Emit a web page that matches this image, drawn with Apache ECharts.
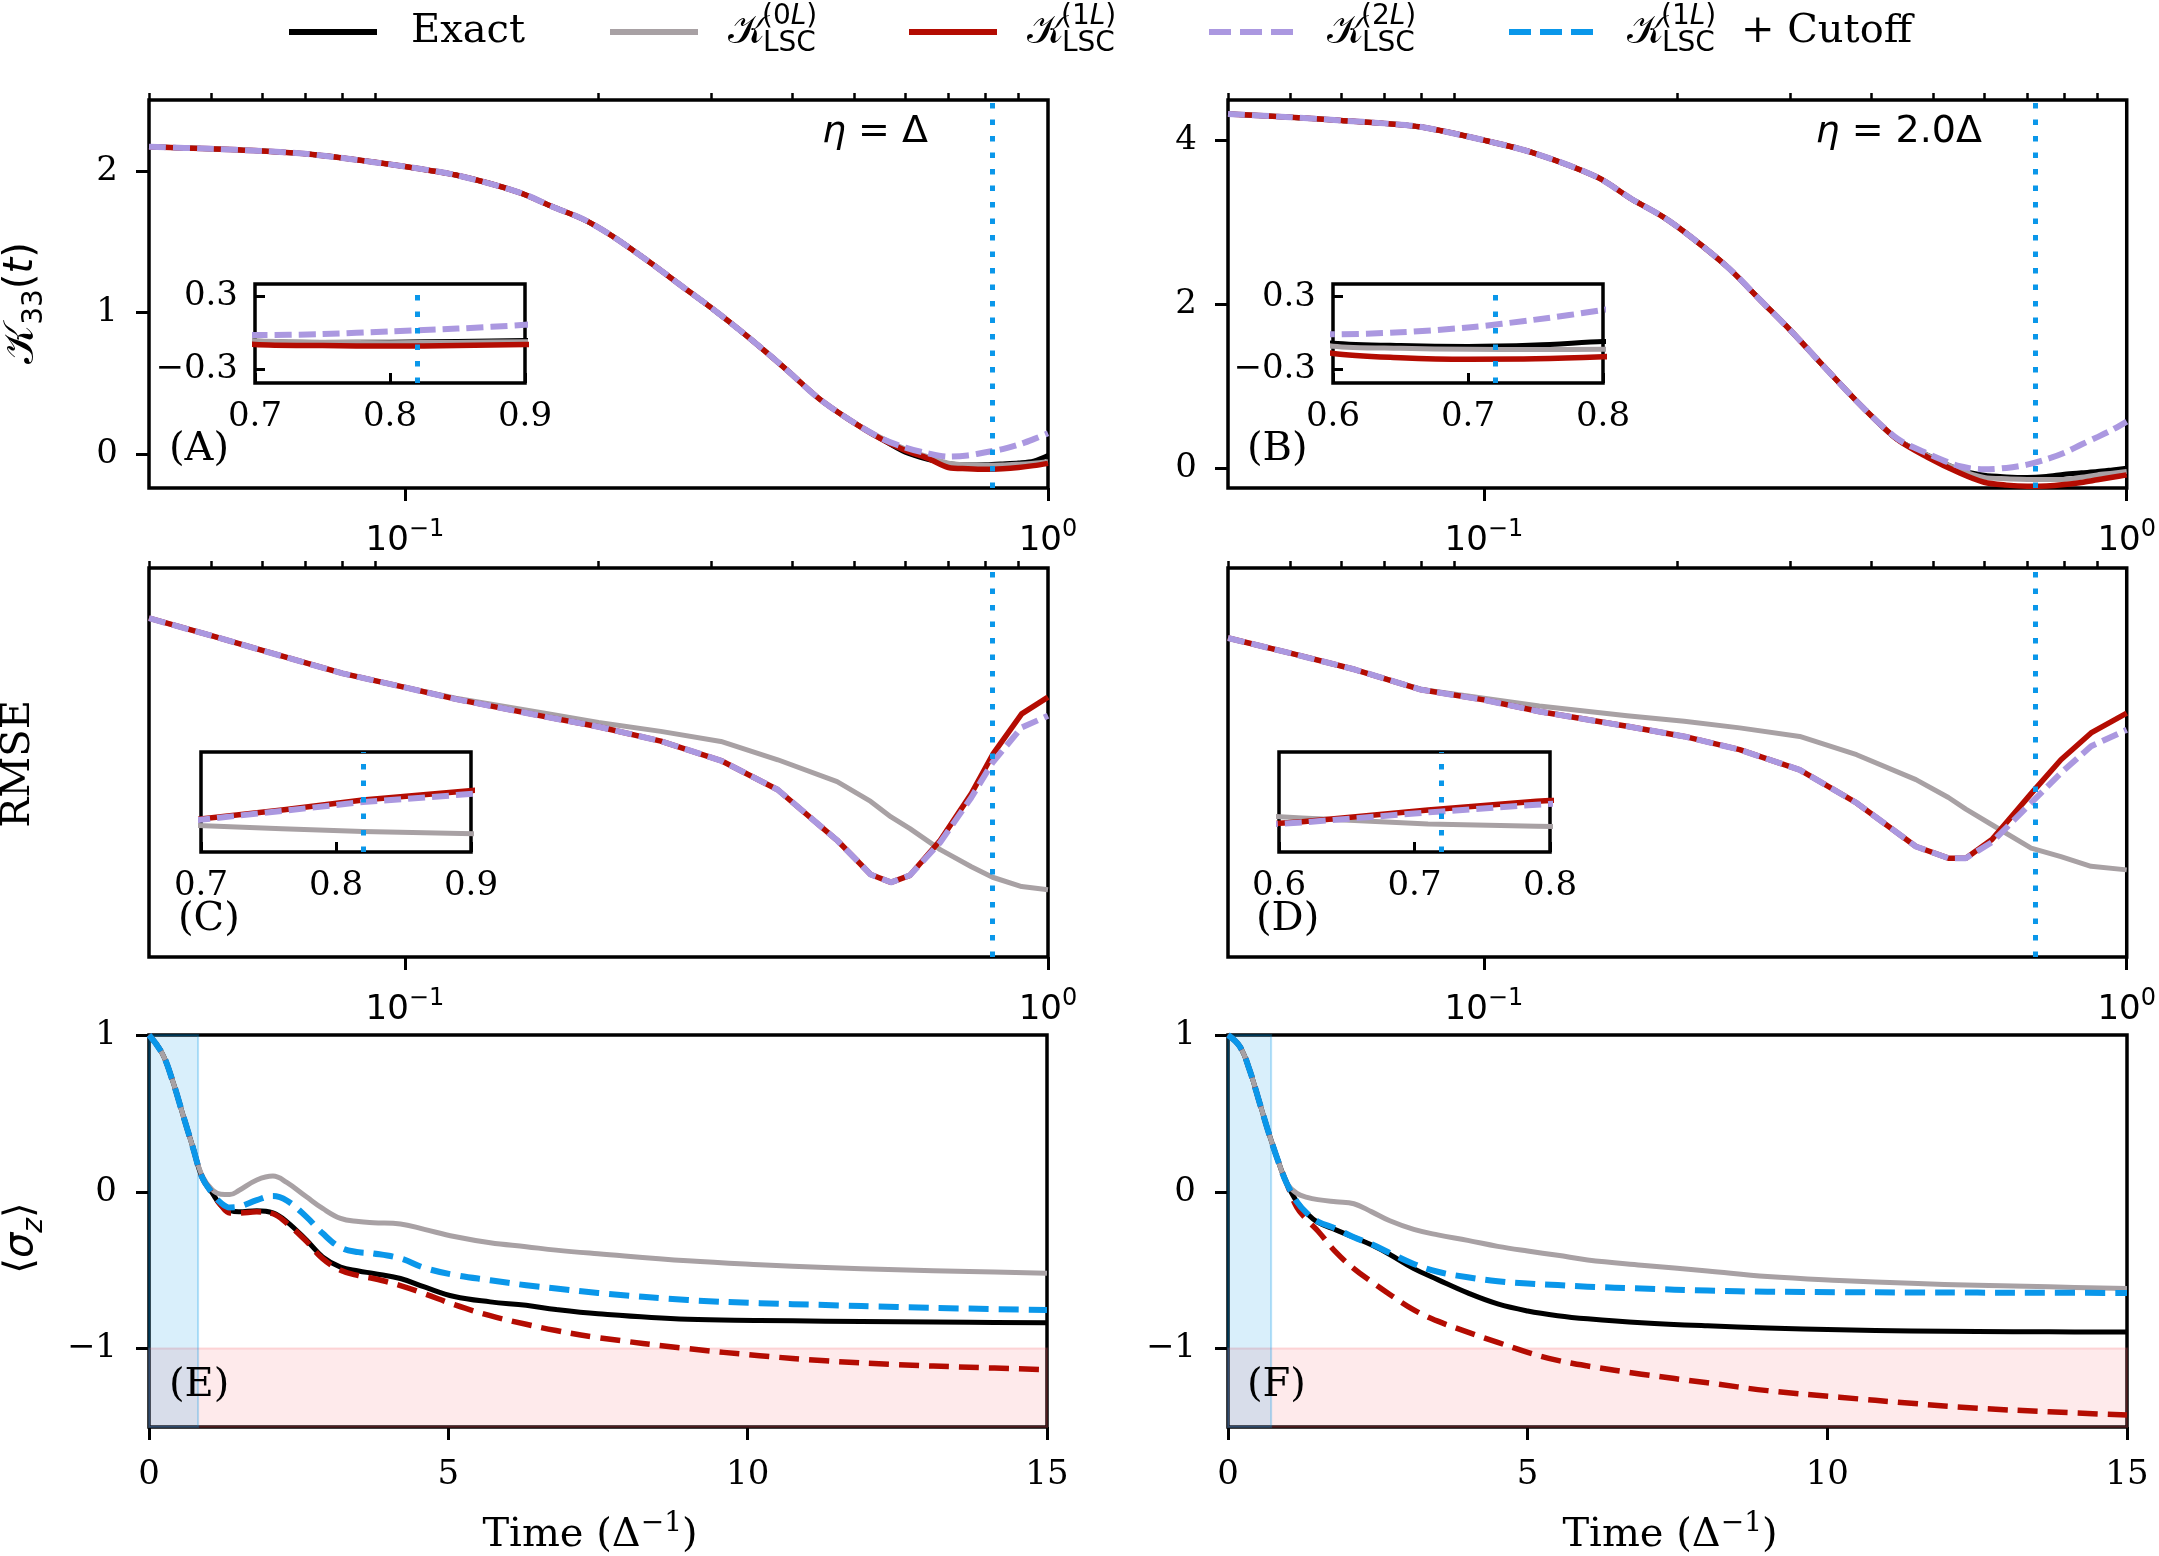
<!DOCTYPE html>
<html>
<head>
<meta charset="utf-8">
<title>LSC kernel, RMSE and population dynamics</title>
<script src="https://cdn.jsdelivr.net/npm/echarts@6/dist/echarts.min.js"></script>
<style>
  html, body { margin: 0; padding: 0; background: #fff; }
  #chart { width: 2159px; height: 1556px; }
</style>
</head>
<body>
<div id="chart"></div>
<script>
// ---------- data ----------
// (A)/(B): memory kernel K33(t) on a log time axis
const tK = [0.04, 0.05, 0.06, 0.07, 0.08, 0.1, 0.12, 0.15, 0.17, 0.19, 0.21, 0.24, 0.27, 0.3,
            0.34, 0.39, 0.44, 0.49, 0.55, 0.6, 0.65, 0.7, 0.75, 0.8, 0.85, 0.9, 0.95, 1.0];

const kA_exact = [2.17, 2.155, 2.14, 2.12, 2.09, 2.03, 1.97, 1.85, 1.745, 1.655, 1.54, 1.356, 1.183, 1.03,
                  0.835, 0.605, 0.393, 0.245, 0.107, 0.012, -0.038, -0.068, -0.078, -0.076, -0.07, -0.063, -0.05, -0.01];
const kA_0L = [2.17, 2.155, 2.14, 2.12, 2.09, 2.03, 1.97, 1.85, 1.745, 1.655, 1.54, 1.356, 1.183, 1.03,
               0.835, 0.605, 0.393, 0.245, 0.115, 0.035, -0.02, -0.065, -0.077, -0.08, -0.078, -0.072, -0.065, -0.055];
const kA_1L = [2.17, 2.155, 2.14, 2.12, 2.09, 2.03, 1.97, 1.85, 1.745, 1.655, 1.54, 1.356, 1.183, 1.03,
               0.835, 0.605, 0.393, 0.245, 0.107, 0.025, -0.03, -0.095, -0.104, -0.108, -0.104, -0.095, -0.082, -0.066];
const kA_2L = [2.17, 2.155, 2.14, 2.12, 2.09, 2.03, 1.97, 1.85, 1.745, 1.655, 1.54, 1.356, 1.183, 1.03,
               0.835, 0.605, 0.393, 0.245, 0.112, 0.045, 0.005, -0.018, -0.01, 0.012, 0.035, 0.066, 0.105, 0.146];

const kB_exact = [4.32, 4.28, 4.24, 4.205, 4.16, 4.0, 3.84, 3.55, 3.28, 3.065, 2.82, 2.445, 2.04, 1.68,
                  1.22, 0.73, 0.35, 0.16, -0.02, -0.085, -0.105, -0.112, -0.1, -0.072, -0.055, -0.04, -0.02, 0.0];
const kB_0L = [4.32, 4.28, 4.24, 4.205, 4.16, 4.0, 3.84, 3.55, 3.28, 3.065, 2.82, 2.445, 2.04, 1.68,
               1.22, 0.73, 0.35, 0.16, -0.02, -0.11, -0.128, -0.135, -0.137, -0.135, -0.11, -0.08, -0.06, -0.04];
const kB_1L = [4.32, 4.28, 4.24, 4.205, 4.16, 4.0, 3.84, 3.55, 3.28, 3.065, 2.82, 2.445, 2.04, 1.68,
               1.22, 0.73, 0.35, 0.135, -0.058, -0.17, -0.205, -0.218, -0.215, -0.198, -0.172, -0.14, -0.11, -0.08];
const kB_2L = [4.32, 4.28, 4.24, 4.205, 4.16, 4.0, 3.84, 3.55, 3.28, 3.065, 2.82, 2.445, 2.04, 1.68,
               1.22, 0.73, 0.36, 0.18, 0.025, -0.012, 0.005, 0.045, 0.11, 0.19, 0.29, 0.38, 0.47, 0.57];

// (C)/(D): RMSE, axis unlabeled in the figure -> arbitrary units (0..1 of panel)
const tC = [0.04, 0.05, 0.06, 0.08, 0.1, 0.12, 0.165, 0.2, 0.25, 0.31, 0.38, 0.47, 0.53, 0.57,
            0.61, 0.68, 0.76, 0.82, 0.91, 1.0];
const rC_0L = [0.871, 0.826, 0.788, 0.729, 0.693, 0.665, 0.627, 0.603, 0.58, 0.554, 0.507, 0.451, 0.40, 0.36,
               0.33, 0.276, 0.232, 0.205, 0.181, 0.173];
const rC_1L = [0.871, 0.826, 0.788, 0.729, 0.693, 0.663, 0.618, 0.592, 0.555, 0.505, 0.43, 0.30, 0.212, 0.192,
               0.21, 0.30, 0.42, 0.52, 0.625, 0.668];
const rC_2L = [0.871, 0.826, 0.788, 0.729, 0.693, 0.663, 0.618, 0.592, 0.555, 0.505, 0.43, 0.30, 0.212, 0.192,
               0.21, 0.295, 0.41, 0.50, 0.59, 0.62];

const tD = [0.04, 0.05, 0.063, 0.08, 0.1, 0.122, 0.167, 0.205, 0.25, 0.31, 0.38, 0.47, 0.528, 0.562,
            0.617, 0.71, 0.79, 0.88, 1.0];
const rD_0L = [0.82, 0.781, 0.739, 0.688, 0.665, 0.645, 0.62, 0.606, 0.589, 0.567, 0.52, 0.456, 0.41, 0.38,
               0.34, 0.28, 0.258, 0.233, 0.224];
const rD_1L = [0.82, 0.781, 0.739, 0.687, 0.661, 0.631, 0.593, 0.567, 0.533, 0.481, 0.396, 0.284, 0.254, 0.254,
               0.302, 0.42, 0.507, 0.576, 0.627];
const rD_2L = [0.82, 0.781, 0.739, 0.687, 0.661, 0.631, 0.593, 0.567, 0.533, 0.481, 0.396, 0.284, 0.254, 0.254,
               0.295, 0.396, 0.473, 0.542, 0.584];

// (E)/(F): <sigma_z>(t)
const tE = [0, 0.22, 0.39, 0.56, 0.73, 0.89, 1.06, 1.2, 1.35, 1.5, 1.8, 2.07, 2.3, 2.63, 2.9, 3.2,
            3.5, 3.75, 4.2, 4.6, 5.1, 5.7, 6.3, 6.8, 7.5, 9.0, 10.2, 11.3, 12.5, 13.7, 15];
const sE_exact = [1.0, 0.883, 0.713, 0.5, 0.287, 0.09, -0.01, -0.085, -0.118, -0.128, -0.121, -0.135, -0.19, -0.308,
                  -0.415, -0.48, -0.505, -0.521, -0.553, -0.607, -0.668, -0.702, -0.724, -0.751, -0.778, -0.813,
                  -0.82, -0.825, -0.828, -0.832, -0.835];
const sE_0L = [1.0, 0.883, 0.713, 0.5, 0.287, 0.1, 0.011, -0.015, -0.018, 0.008, 0.075, 0.1, 0.06, -0.032,
               -0.106, -0.17, -0.19, -0.197, -0.205, -0.24, -0.285, -0.325, -0.35, -0.372, -0.395, -0.44,
               -0.465, -0.483, -0.497, -0.508, -0.519];
const sE_1L = [1.0, 0.883, 0.713, 0.5, 0.287, 0.09, -0.01, -0.085, -0.135, -0.135, -0.128, -0.14, -0.2, -0.316,
               -0.426, -0.5, -0.535, -0.553, -0.598, -0.65, -0.72, -0.79, -0.845, -0.885, -0.93, -1.0,
               -1.045, -1.078, -1.102, -1.119, -1.134];
const sE_cut = [1.0, 0.883, 0.713, 0.5, 0.287, 0.09, -0.01, -0.07, -0.1, -0.095, -0.053, -0.027, -0.055, -0.16,
                -0.265, -0.355, -0.385, -0.393, -0.425, -0.485, -0.53, -0.564, -0.596, -0.617, -0.645, -0.69,
                -0.71, -0.722, -0.735, -0.745, -0.754];

const tF = [0, 0.2, 0.36, 0.53, 0.7, 0.87, 0.98, 1.15, 1.32, 1.5, 1.8, 2.1, 2.4, 2.7, 3.1, 3.5, 4.0,
            4.5, 5.0, 5.5, 6.0, 6.9, 8.0, 9.0, 10.2, 11.4, 12.5, 13.7, 15];
const sF_exact = [1.0, 0.925, 0.777, 0.564, 0.351, 0.16, 0.054, -0.064, -0.138, -0.195, -0.243, -0.29, -0.34,
                  -0.40, -0.49, -0.56, -0.645, -0.715, -0.76, -0.79, -0.81, -0.835, -0.855, -0.868, -0.88,
                  -0.888, -0.891, -0.893, -0.894];
const sF_0L = [1.0, 0.925, 0.777, 0.564, 0.351, 0.16, 0.054, -0.01, -0.035, -0.05, -0.064, -0.076, -0.128,
               -0.185, -0.24, -0.275, -0.31, -0.348, -0.378, -0.405, -0.435, -0.468, -0.505, -0.54, -0.565,
               -0.584, -0.596, -0.606, -0.617];
const sF_1L = [1.0, 0.925, 0.777, 0.564, 0.351, 0.16, 0.054, -0.1, -0.18, -0.25, -0.385, -0.49, -0.575,
               -0.655, -0.753, -0.825, -0.895, -0.96, -1.024, -1.075, -1.111, -1.163, -1.218, -1.268, -1.31,
               -1.349, -1.38, -1.403, -1.424];
const sF_cut = [1.0, 0.925, 0.777, 0.564, 0.351, 0.16, 0.054, -0.064, -0.138, -0.19, -0.235, -0.29, -0.335,
                -0.39, -0.46, -0.51, -0.545, -0.57, -0.585, -0.595, -0.605, -0.617, -0.63, -0.637, -0.64,
                -0.642, -0.643, -0.644, -0.645];

// cutoff times (dotted lines / blue band) and the unphysical region <sigma_z> < -1
const cutoffLeft = 0.82;
const cutoffRight = 0.72;
const sigmaFloor = -1;

// tick values
const logMajor = [0.1, 1];
const logMinor = [0.04, 0.05, 0.06, 0.07, 0.08, 0.09, 0.2, 0.3, 0.4, 0.5, 0.6, 0.7, 0.8, 0.9];
const ticksKA = [0, 1, 2];
const ticksKB = [0, 2, 4];
const ticksSigma = [-1, 0, 1];
const ticksTime = [0, 5, 10, 15];
const ticksInsetY = [-0.3, 0.3];
const ticksInsetLeft = [0.7, 0.8, 0.9];
const ticksInsetRight = [0.6, 0.7, 0.8];

// ---------- styling ----------
const BLACK = '#000000', GRAY = '#a8a1a4', RED = '#b40c02', LAV = '#ab98e0', BLUE = '#0a97ea';
const SERIF = 'DejaVu Serif', SANS = 'DejaVu Sans';
const TICK_FS = 34;

const chart = echarts.init(document.getElementById('chart'));

const minus = v => (v < 0 ? '\u2212' + Math.abs(v) : String(v));

function logAxes(gi) {
  const base = {
    type: 'log', logBase: 10, gridIndex: gi, min: 0.04, max: 1,
    axisLine: {show: false, onZero: false}, splitLine: {show: false}
  };
  return [
    Object.assign({}, base, {
      axisTick: {show: true, length: 13, customValues: logMajor, lineStyle: {color: BLACK, width: 3}},
      axisLabel: {
        show: true, customValues: logMajor, margin: 30,
        formatter: v => '{b|10}{s|' + minus(Math.round(Math.log10(v))) + '}',
        rich: {
          b: {fontFamily: SANS, fontSize: TICK_FS, lineHeight: 46, color: BLACK},
          s: {fontFamily: SANS, fontSize: 24, lineHeight: 24, verticalAlign: 'top', color: BLACK}
        }
      }
    }),
    Object.assign({}, base, {
      axisTick: {show: true, length: 7, customValues: logMinor, lineStyle: {color: BLACK, width: 2.5}},
      axisLabel: {show: false}
    })
  ];
}

function valAxis(gi, min, max, ticks, opt) {
  opt = opt || {};
  return {
    type: 'value', gridIndex: gi, min: min, max: max,
    axisLine: {show: false, onZero: false}, splitLine: {show: false},
    axisTick: {show: true, inside: !!opt.inside, length: opt.len || 13, customValues: ticks,
               lineStyle: {color: BLACK, width: 3}},
    axisLabel: {show: true, customValues: ticks, margin: opt.margin || 30,
                formatter: opt.fmt || minus, fontFamily: SERIF, fontSize: TICK_FS, color: BLACK}
  };
}

function hiddenAxis(gi, min, max) {
  return {type: 'value', gridIndex: gi, min: min, max: max, show: false,
          axisLine: {onZero: false}, splitLine: {show: false}};
}

const grids = [
  {left: 149, top: 100, width: 899, height: 388},   // A
  {left: 1228, top: 100, width: 899, height: 388},  // B
  {left: 149, top: 568, width: 899, height: 389},   // C
  {left: 1228, top: 568, width: 899, height: 389},  // D
  {left: 149, top: 1035, width: 898, height: 392},  // E
  {left: 1228, top: 1035, width: 899, height: 392}, // F
  {left: 255, top: 284, width: 270, height: 99},    // inset A
  {left: 1333, top: 284, width: 270, height: 99},   // inset B
  {left: 201, top: 752, width: 270, height: 100},   // inset C
  {left: 1279, top: 752, width: 271, height: 100}   // inset D
];

const fmt1 = v => minus(Number(v.toFixed(1)));

const xAxes = [].concat(
  logAxes(0), logAxes(1), logAxes(2), logAxes(3),                           // 0..7
  [valAxis(4, 0, 15, ticksTime, {margin: 31}),                               // 8
   valAxis(5, 0, 15, ticksTime, {margin: 31}),                               // 9
   valAxis(6, 0.7, 0.9, ticksInsetLeft, {inside: true, len: 10, margin: 17, fmt: fmt1}),   // 10
   valAxis(7, 0.6, 0.8, ticksInsetRight, {inside: true, len: 10, margin: 17, fmt: fmt1}),  // 11
   valAxis(8, 0.7, 0.9, ticksInsetLeft, {inside: true, len: 10, margin: 17, fmt: fmt1}),   // 12
   valAxis(9, 0.6, 0.8, ticksInsetRight, {inside: true, len: 10, margin: 17, fmt: fmt1})]  // 13
);

const yAxes = [
  valAxis(0, -0.24, 2.5, ticksKA, {margin: 31}),
  valAxis(1, -0.24, 4.49, ticksKB, {margin: 31}),
  hiddenAxis(2, 0, 1),
  hiddenAxis(3, 0, 1),
  valAxis(4, -1.5, 1, ticksSigma, {margin: 32}),
  valAxis(5, -1.5, 1, ticksSigma, {margin: 32}),
  valAxis(6, -0.41, 0.4, ticksInsetY, {inside: true, len: 10, margin: 17, fmt: fmt1}),
  valAxis(7, -0.415, 0.405, ticksInsetY, {inside: true, len: 10, margin: 17, fmt: fmt1}),
  hiddenAxis(8, 0, 1),
  hiddenAxis(9, 0, 1)
];

function line(name, xi, yi, xs, ys, color, width, dash, smooth) {
  return {
    name: name, type: 'line', xAxisIndex: xi, yAxisIndex: yi,
    data: xs.map((x, i) => [x, ys[i]]),
    symbol: 'none', showSymbol: false, smooth: smooth, silent: true,
    lineStyle: {color: color, width: width, type: dash || 'solid', cap: 'butt', join: 'round'}
  };
}

function cutoffMark(x) {
  return {
    silent: true, symbol: ['none', 'none'], label: {show: false},
    lineStyle: {color: BLUE, width: 5, type: [5.5, 11], cap: 'butt'},
    data: [{xAxis: x}]
  };
}

const LAV_DASH = [17, 7];
const E_DASH = [20, 10];
const series = [];

function kernelPanel(xi, yi, ex, z0, z1, z2, cut, smooth) {
  if (ex) series.push(line('Exact', xi, yi, tK, ex, BLACK, 5, null, smooth));
  series.push(line('K0L', xi, yi, tK, z0, GRAY, 5, null, smooth));
  const s1 = line('K1L', xi, yi, tK, z1, RED, 5.5, null, smooth);
  s1.markLine = cutoffMark(cut);
  series.push(s1);
  series.push(line('K2L', xi, yi, tK, z2, LAV, 6, LAV_DASH, smooth));
}
function rmsePanel(xi, yi, ts, z0, z1, z2, cut) {
  series.push(line('K0L', xi, yi, ts, z0, GRAY, 5, null, false));
  const s1 = line('K1L', xi, yi, ts, z1, RED, 5.5, null, false);
  s1.markLine = cutoffMark(cut);
  series.push(s1);
  series.push(line('K2L', xi, yi, ts, z2, LAV, 6, LAV_DASH, false));
}
function sigmaPanel(xi, yi, ts, ex, z0, z1, cutS, cut) {
  series.push(line('Exact', xi, yi, ts, ex, BLACK, 5, null, 0.4));
  const g = line('K0L', xi, yi, ts, z0, GRAY, 5, null, 0.4);
  g.markArea = {
    silent: true, label: {show: false},
    data: [
      [{yAxis: -1.5, itemStyle: {color: 'rgba(245,90,100,0.13)', borderColor: 'rgba(245,90,100,0.22)', borderWidth: 2}},
       {yAxis: sigmaFloor}],
      [{xAxis: 0, itemStyle: {color: 'rgba(0,150,230,0.15)', borderColor: 'rgba(0,150,230,0.28)', borderWidth: 2}},
       {xAxis: cut}]
    ]
  };
  series.push(g);
  series.push(line('K1L', xi, yi, ts, z1, RED, 5.5, E_DASH, 0.4));
  series.push(line('K1L+Cutoff', xi, yi, ts, cutS, BLUE, 6, E_DASH, 0.4));
}

kernelPanel(0, 0, kA_exact, kA_0L, kA_1L, kA_2L, cutoffLeft, 0.3);
kernelPanel(2, 1, kB_exact, kB_0L, kB_1L, kB_2L, cutoffRight, 0.3);
rmsePanel(4, 2, tC, rC_0L, rC_1L, rC_2L, cutoffLeft);
rmsePanel(6, 3, tD, rD_0L, rD_1L, rD_2L, cutoffRight);
sigmaPanel(8, 4, tE, sE_exact, sE_0L, sE_1L, sE_cut, cutoffLeft);
sigmaPanel(9, 5, tF, sF_exact, sF_0L, sF_1L, sF_cut, cutoffRight);
// insets (same curves, zoomed)
kernelPanel(10, 6, kA_exact, kA_0L, kA_1L, kA_2L, cutoffLeft, 0.3);
kernelPanel(11, 7, kB_exact, kB_0L, kB_1L, kB_2L, cutoffRight, 0.3);
rmsePanel(12, 8, tC, rC_0L, rC_1L, rC_2L, cutoffLeft);
rmsePanel(13, 9, tD, rD_0L, rD_1L, rD_2L, cutoffRight);

// ---------- text: legend, axis titles, panel tags ----------
const graphics = [];
function txt(x, y, text, extra) {
  const st = Object.assign({text: text, x: 0, y: 0, fill: BLACK, fontFamily: SERIF, fontSize: 40,
                            align: 'left', verticalAlign: 'middle'}, extra || {});
  graphics.push({type: 'text', x: x, y: y, z: 100, silent: true, style: st});
}
const KCAL = '\uD835\uDCA6';
const legY = 32;
const legendItems = [
  {x: 289, color: BLACK, dash: null, label: 'Exact'},
  {x: 610, color: GRAY, dash: null, sup: '0'},
  {x: 909, color: RED, dash: null, sup: '1'},
  {x: 1209, color: LAV, dash: [22, 9], sup: '2'},
  {x: 1509, color: BLUE, dash: [22, 9], sup: '1', after: '+ Cutoff'}
];
legendItems.forEach(it => {
  graphics.push({type: 'line', z: 100, silent: true,
    shape: {x1: it.x, y1: legY, x2: it.x + 88, y2: legY},
    style: {stroke: it.color, lineWidth: 6, lineDash: it.dash, lineCap: 'butt'}});
  if (it.label) { txt(it.x + 122, legY, it.label); return; }
  txt(it.x + 118, legY + 1, KCAL, {fontFamily: SANS, fontSize: 40});
  txt(it.x + 152, legY - 15, '{n|(' + it.sup + '}{i|L}{n|)}', {fontFamily: SANS, fontSize: 28,
    rich: {n: {fontFamily: SANS, fontSize: 28}, i: {fontFamily: SANS, fontSize: 28, fontStyle: 'italic'}}});
  txt(it.x + 153, legY + 12, 'LSC', {fontFamily: SANS, fontSize: 28});
  if (it.after) txt(it.x + 232, legY, it.after);
});

// eta labels
const etaRich = {i: {fontFamily: SANS, fontSize: 38, fontStyle: 'italic'}, n: {fontFamily: SANS, fontSize: 38}};
txt(928, 132, '{i|\u03B7}{n| = \u0394}', {align: 'right', rich: etaRich});
txt(1982, 132, '{i|\u03B7}{n| = 2.0\u0394}', {align: 'right', rich: etaRich});

// panel tags
[['(A)', 169, 450], ['(B)', 1247, 450], ['(C)', 178, 920], ['(D)', 1256, 920],
 ['(E)', 169, 1386], ['(F)', 1247, 1386]].forEach(p => txt(p[1], p[2], p[0], {fontSize: 40}));

// y titles (rotated)
function vtxt(x, y, text, rich) {
  graphics.push({type: 'text', x: x, y: y, rotation: Math.PI / 2, z: 100, silent: true,
    style: {text: text, x: 0, y: 0, fill: BLACK, fontFamily: SERIF, fontSize: 40,
            align: 'center', verticalAlign: 'middle', rich: rich}});
}
vtxt(22, 303, '{k|' + KCAL + '}{s|33}{n|(}{i|t}{n|)}', {
  k: {fontFamily: SANS, fontSize: 42, lineHeight: 54},
  s: {fontFamily: SANS, fontSize: 28, lineHeight: 28, verticalAlign: 'bottom'},
  n: {fontFamily: SANS, fontSize: 40, lineHeight: 54},
  i: {fontFamily: SANS, fontSize: 40, lineHeight: 54, fontStyle: 'italic'}
});
vtxt(19, 764, 'RMSE');
vtxt(22, 1238, '{n|\u27E8}{i|\u03C3}{s|z}{n|\u27E9}', {
  n: {fontFamily: SANS, fontSize: 40, lineHeight: 54},
  i: {fontFamily: SANS, fontSize: 40, lineHeight: 54, fontStyle: 'italic'},
  s: {fontFamily: SANS, fontSize: 28, lineHeight: 28, verticalAlign: 'bottom', fontStyle: 'italic'}
});

// x titles
const timeRich = {
  b: {fontFamily: SERIF, fontSize: 40, lineHeight: 52},
  p: {fontFamily: SERIF, fontSize: 28, lineHeight: 28, verticalAlign: 'top'}
};
txt(590, 1536, '{b|Time (\u0394}{p|\u22121}{b|)}', {align: 'center', rich: timeRich});
txt(1670, 1536, '{b|Time (\u0394}{p|\u22121}{b|)}', {align: 'center', rich: timeRich});

chart.setOption({
  animation: false,
  backgroundColor: '#ffffff',
  grid: grids.map((g, i) => Object.assign({
    show: true, borderColor: BLACK, borderWidth: 3.5, containLabel: false,
    backgroundColor: i >= 6 ? '#ffffff' : 'rgba(0,0,0,0)'
  }, g)),
  xAxis: xAxes,
  yAxis: yAxes,
  series: series,
  graphic: {elements: graphics}
});
</script>
</body>
</html>
